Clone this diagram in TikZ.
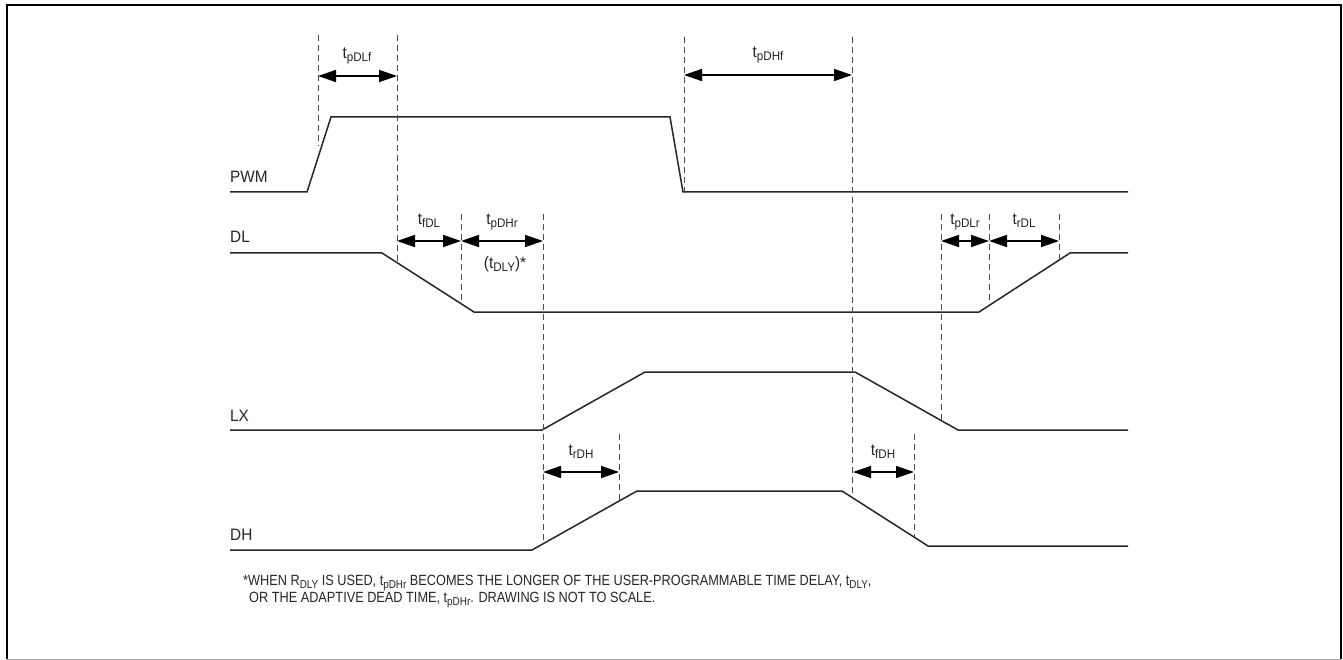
\documentclass[tikz,border=0pt]{standalone}
\usepackage{fontspec}
\setmainfont{Liberation Sans}[FakeStretch=0.93]
\newfontfamily\notefont{Liberation Sans}[FakeStretch=0.86]
\usetikzlibrary{arrows.meta}
\newcommand\sbs[2][12.5]{\raisebox{-3pt}{\fontsize{#1}{#1}\selectfont #2}}
\begin{document}
\begin{tikzpicture}[x=1pt,y=-1pt,
  sig/.style={line width=1.5pt, draw=black!85, line join=miter},
  guide/.style={line width=0.9pt, dash pattern=on 6pt off 4pt, draw=black!70},
  dimarrow/.style={line width=1.5pt, {Triangle[length=18pt,width=12pt]}-{Triangle[length=18pt,width=12pt]}},
  lbl/.style={anchor=base west, inner sep=0pt, font=\fontsize{16.5}{19}\selectfont, text=black!85},
  tl/.style={anchor=base, inner sep=0pt, font=\fontsize{16.5}{19}\selectfont, text=black!85},
  fn/.style={anchor=base west, inner sep=0pt, font=\notefont\fontsize{14.8}{17}\selectfont, text=black!85}]
\useasboundingbox[fill=white] (0,0) rectangle (1343,660);
% frame
\draw[line width=1.5pt] (7,659) -- (7,5) -- (1341,5) -- (1341,659);
\draw[line width=1pt, draw=black!35] (7,659) -- (1341,659);

% signal names
\node[lbl] (nPWM) at (230,183) {PWM};
\node[lbl] (nDL) at (230,243) {DL};
\node[lbl] (nLX) at (230,421) {LX};
\node[lbl] (nDH) at (230,540) {DH};

% waveforms
\draw[sig] (230,192) -- (307,192) -- (331,117) -- (670,117) -- (683,192) -- (1128,192);
\draw[sig] (230,253) -- (382,253) -- (474,312) -- (979,312) -- (1070,253) -- (1128,253);
\draw[sig] (230,430) -- (542,430) -- (645,372) -- (855,372) -- (958,430) -- (1128,430);
\draw[sig] (230,550) -- (532,550) -- (637,491) -- (842,491) -- (928,546) -- (1128,546);

% guide lines
\coordinate (g1t) at (318,35);  \coordinate (g1b) at (318,146);
\coordinate (g2t) at (397,35);  \coordinate (g2b) at (397,263);
\coordinate (g3t) at (684,37);  \coordinate (g3b) at (684,192);
\coordinate (g4t) at (852,37);  \coordinate (g4b) at (852,495);
\coordinate (g5t) at (461,214); \coordinate (g5b) at (461,303);
\coordinate (g6t) at (543,214); \coordinate (g6b) at (543,542);
\coordinate (g7t) at (941,214); \coordinate (g7b) at (941,420);
\coordinate (g8t) at (989,214); \coordinate (g8b) at (989,305);
\coordinate (g9t) at (1059,214);\coordinate (g9b) at (1059,260);
\coordinate (g10t) at (619,434);\coordinate (g10b) at (619,500);
\coordinate (g11t) at (914,434);\coordinate (g11b) at (914,537);
\foreach \g in {1,...,11} \draw[guide] (g\g t) -- (g\g b);

% dimension arrow ends
\coordinate (a1l) at (318,76);  \coordinate (a1r) at (397,76);
\coordinate (a2l) at (684,75);  \coordinate (a2r) at (852,75);
\coordinate (a3l) at (397,241); \coordinate (a3r) at (461,241);
\coordinate (a4l) at (461,241); \coordinate (a4r) at (543,241);
\coordinate (a5l) at (941,241); \coordinate (a5r) at (989,241);
\coordinate (a6l) at (989,241); \coordinate (a6r) at (1059,241);
\coordinate (a7l) at (543,472); \coordinate (a7r) at (619,472);
\coordinate (a8l) at (853,472); \coordinate (a8r) at (914,472);
\foreach \a in {1,...,8} \draw[dimarrow] (a\a l) -- (a\a r);

% timing labels
\node[tl] (tpDLf) at (357,59) {t\sbs{pDLf}};
\node[tl] (tpDHf) at (768,58) {t\sbs{pDHf}};
\node[tl] (tfDL) at (429,225) {t\sbs{fDL}};
\node[tl] (tpDHr) at (502,225) {t\sbs{pDHr}};
\node[tl] (tDLY) at (505,269) {(t\sbs{DLY})*};
\node[tl] (tpDLr) at (965,225) {t\sbs{pDLr}};
\node[tl] (trDL) at (1024,225) {t\sbs{rDL}};
\node[tl] (trDH) at (581,455) {t\sbs{rDH}};
\node[tl] (tfDH) at (883,455) {t\sbs{fDH}};

% footnote
\node[fn] (fn1) at (243,585) {*WHEN R\sbs[11.5]{DLY} IS USED, t\sbs[11.5]{pDHr} BECOMES THE LONGER OF THE USER-PROGRAMMABLE TIME DELAY, t\sbs[11.5]{DLY},};
\node[fn] (fn2) at (249,602) {OR THE ADAPTIVE DEAD TIME, t\sbs[11.5]{pDHr}. DRAWING IS NOT TO SCALE.};
\end{tikzpicture}
\end{document}
